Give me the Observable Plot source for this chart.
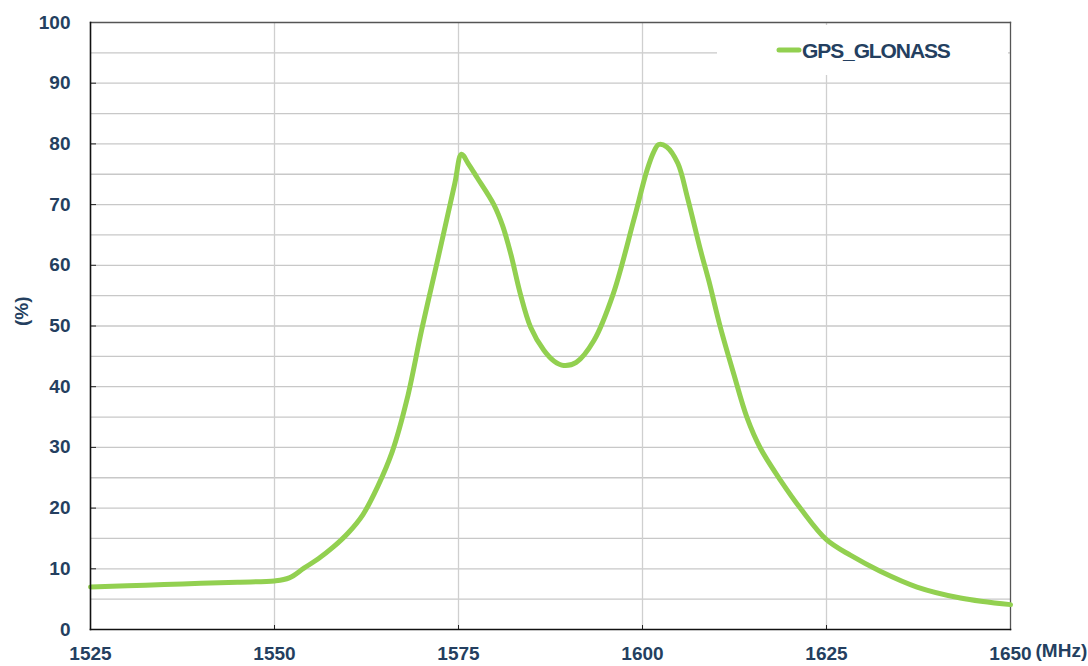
<!DOCTYPE html>
<html>
<head>
<meta charset="utf-8">
<script src="https://cdn.jsdelivr.net/npm/d3@7"></script>
<script src="https://cdn.jsdelivr.net/npm/@observablehq/plot@0.6"></script>
<style>
  html, body { margin: 0; padding: 0; background: #fff; }
  #wrap { position: relative; width: 1088px; height: 666px; font-family: "Liberation Sans", Arial, sans-serif; }
  #legend { position: absolute; left: 717px; top: 25px; width: 291px; height: 50px; background: #fff; }
</style>
</head>
<body>
<div id="wrap">
  <div id="chart"></div>
  <div id="legend">
    <svg width="291" height="50">
      <line x1="62" y1="25" x2="82" y2="25" stroke="#92D050" stroke-width="5" stroke-linecap="round"></line>
      <text x="85" y="25" dominant-baseline="central" font-family="Liberation Sans, Arial, sans-serif" font-weight="bold" font-size="21" letter-spacing="-1.1" fill="#243F60">GPS_GLONASS</text>
    </svg>
  </div>
</div>
<script>
const freq = [1525, 1530, 1535, 1540, 1545, 1550, 1552, 1554, 1556, 1558, 1560, 1562, 1564, 1566, 1568, 1570, 1572, 1574.5, 1575.4, 1576.3, 1577.5, 1579.8, 1581, 1582.1, 1583.4, 1584.8, 1586.6, 1588, 1589.3, 1591, 1593.4, 1596, 1598.8, 1600.6, 1601.5, 1602.2, 1603.3, 1604.8, 1606.1, 1607.9, 1609, 1610.6, 1612.4, 1614.2, 1616, 1618.8, 1621.5, 1625, 1628.3, 1632.3, 1637.3, 1643.2, 1650];
const efficiency = [7.0, 7.2, 7.4, 7.6, 7.8, 8.0, 8.5, 10.1, 11.7, 13.6, 15.9, 18.9, 23.5, 29.3, 37.9, 49.4, 60.0, 73.5, 78.3, 76.8, 74.5, 70.0, 66.5, 61.9, 55.3, 49.8, 46.0, 44.2, 43.5, 44.0, 47.6, 55.2, 67.4, 75.6, 78.6, 79.9, 79.5, 76.8, 71.2, 62.4, 57.5, 49.7, 42.1, 34.9, 29.9, 24.5, 19.9, 14.8, 12.2, 9.6, 7.0, 5.2, 4.1];
const xTicks = [1525, 1550, 1575, 1600, 1625, 1650];
const yTicks = [0, 10, 20, 30, 40, 50, 60, 70, 80, 90, 100];
const yGrid = [5, 10, 15, 20, 25, 30, 35, 40, 45, 50, 55, 60, 65, 70, 75, 80, 85, 90, 95];
const xGrid = [1550, 1575, 1600, 1625];

const data = freq.map((f, i) => ({f, v: efficiency[i]}));
const navy = "#243F60";

const chart = Plot.plot({
  width: 1088,
  height: 666,
  marginLeft: 90,
  marginRight: 78,
  marginTop: 22,
  marginBottom: 37,
  style: {fontFamily: "Liberation Sans, Arial, sans-serif", fontWeight: "bold", fontSize: "19px", color: navy, background: "#fff"},
  x: {domain: [1525, 1650]},
  y: {domain: [0, 100]},
  marks: [
    Plot.gridY(yGrid, {stroke: "#c8c8c8", strokeOpacity: 1, strokeWidth: 1.3}),
    Plot.gridX(xGrid, {stroke: "#cfcfcf", strokeOpacity: 1, strokeWidth: 1.3}),
    Plot.frame({anchor: "top", stroke: "#555", strokeWidth: 1.3}),
    Plot.frame({anchor: "right", stroke: "#555", strokeWidth: 1.3}),
    Plot.line(data, {x: "f", y: "v", stroke: "#92D050", strokeWidth: 5, strokeLinejoin: "round", strokeLinecap: "round", curve: "catmull-rom"}),
    Plot.axisY(yTicks, {anchor: "left", tickSize: 0, tickPadding: 20, tickFormat: "d", fill: navy, fontSize: 19, fontWeight: "bold", label: null}),
    Plot.axisY(yTicks.filter(d => d > 0 && d < 100), {anchor: "left", tickSize: 6, dx: 6, text: null, stroke: "#222", label: null}),
    Plot.axisX(xTicks, {anchor: "bottom", tickSize: 0, tickPadding: 17, tickFormat: "d", fill: navy, fontSize: 19, fontWeight: "bold", label: null}),
    Plot.axisX(xGrid, {anchor: "bottom", tickSize: 4, dy: -4, text: null, stroke: "#222", label: null}),
    Plot.frame({anchor: "left", stroke: "#111", strokeWidth: 1.6}),
    Plot.frame({anchor: "bottom", stroke: "#111", strokeWidth: 1.6}),
    Plot.text(["(%)"], {frameAnchor: "left", dx: -69, rotate: -90, fill: navy, fontSize: 19, fontWeight: "bold"}),
    Plot.text(["(MHz)"], {frameAnchor: "bottom-right", textAnchor: "start", dx: 25, dy: 27, fill: navy, fontSize: 19, fontWeight: "bold"})
  ]
});
document.getElementById("chart").appendChild(chart);
</script>
</body>
</html>
